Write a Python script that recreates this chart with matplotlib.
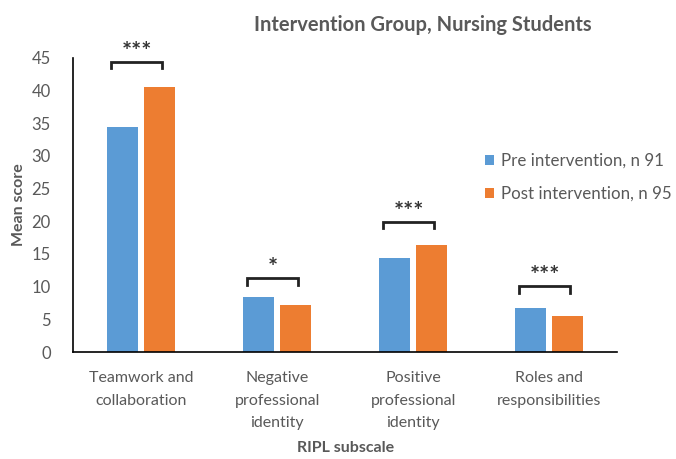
import matplotlib
matplotlib.use("Agg")
import matplotlib.pyplot as plt
import numpy as np

categories = ["Teamwork and\ncollaboration", "Negative\nprofessional\nidentity",
              "Positive\nprofessional\nidentity", "Roles and\nresponsibilities"]
pre = [34.4, 8.4, 14.4, 6.7]
post = [40.6, 7.2, 16.4, 5.5]
sig = ["***", "*", "***", "***"]
bracket_y = [44.4, 11.3, 19.9, 10.1]
series_names = ["Pre intervention, n 91", "Post intervention, n 95"]

plt.rcParams['font.family'] = ['Lato', 'DejaVu Sans']
gray = "#595959"
blue = "#5B9BD5"
orange = "#ED7D31"

fig = plt.figure(figsize=(6.76, 4.59), dpi=100)
ax = fig.add_axes([0.108, 0.233, 0.805, 0.641])
x = np.arange(len(categories))
w = 0.23
off = 0.137
b1 = ax.bar(x - off, pre, w, color=blue, label=series_names[0])
b2 = ax.bar(x + off, post, w, color=orange, label=series_names[1])

ax.set_xlim(-0.5, 3.5)
ax.set_ylim(0, 45)
ax.set_yticks(np.arange(0, 46, 5))
ax.set_xticks(x)
ax.set_xticklabels(categories, fontsize=11.5, color=gray, linespacing=1.75)
ax.tick_params(axis='y', labelsize=12, colors=gray, length=0, pad=16)
ax.tick_params(axis='x', length=0, pad=14)
for s in ["top", "right"]:
    ax.spines[s].set_visible(False)
for s in ["left", "bottom"]:
    ax.spines[s].set_color("black")
    ax.spines[s].set_linewidth(1.2)

ax.set_ylabel("Mean score", fontsize=11.5, fontweight='bold', color=gray, labelpad=4)
ax.set_xlabel("RIPL subscale", fontsize=11.5, fontweight='bold', color=gray, labelpad=8)
fig.text(0.625, 0.945, "Intervention Group, Nursing Students", ha='center', va='center',
         fontsize=14.5, fontweight='bold', color=gray)

for i in range(len(categories)):
    x0 = x[i] - 0.22
    x1 = x[i] + 0.155
    y = bracket_y[i]
    ax.plot([x0, x0, x1, x1], [y - 1.0, y, y, y - 1.0], color="#222222", lw=2.0,
            clip_on=False, solid_joinstyle='miter')
    ax.text((x0 + x1) / 2, y - 0.3, sig[i], ha='center', va='bottom', fontsize=17,
            fontweight='bold', color="#333333", clip_on=False)

fig.legend(handles=[b1, b2], loc='upper left', bbox_to_anchor=(0.695, 0.7),
           frameon=False, fontsize=12.2, labelcolor=gray, handlelength=0.55,
           handleheight=0.55, handletextpad=0.4, labelspacing=1.0)

fig.savefig("out.png", dpi=100)
